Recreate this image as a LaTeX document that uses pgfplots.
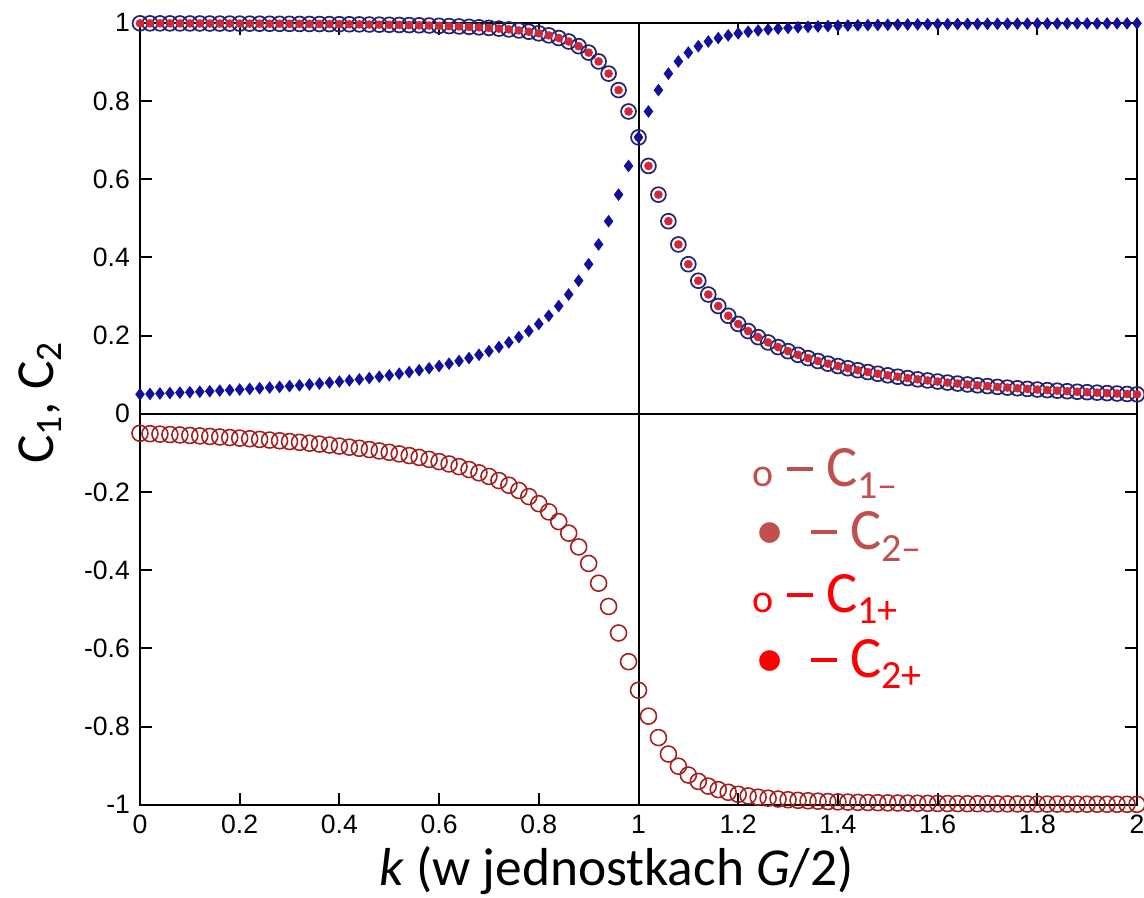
\documentclass[border=0pt]{standalone}
\usepackage{fontspec}
\setmainfont{Carlito}
\newfontfamily\ticksfont{Liberation Sans}
\usepackage{pgfplots}
\pgfplotsset{compat=1.18}
\usepackage{pgfplotstable}

\definecolor{navyc}{HTML}{23236E}
\definecolor{bluec}{HTML}{10109A}
\definecolor{dotred}{HTML}{D02838}
\definecolor{darkred}{HTML}{A51E1E}
\definecolor{accred}{HTML}{C0504D}

\newcommand{\ldash}{\rule[5.6pt]{9pt}{1.3pt}}

% k, A = upper curve (circles + dots), D = rising curve (diamonds), R = lower curve
\pgfplotstableread{
k    A      D      R
0.00 0.9988 0.0498 -0.0498
0.02 0.9987 0.0508 -0.0508
0.04 0.9987 0.0519 -0.0519
0.06 0.9986 0.0530 -0.0530
0.08 0.9985 0.0541 -0.0541
0.10 0.9985 0.0553 -0.0553
0.12 0.9984 0.0565 -0.0565
0.14 0.9983 0.0578 -0.0578
0.16 0.9982 0.0592 -0.0592
0.18 0.9982 0.0606 -0.0606
0.20 0.9981 0.0621 -0.0621
0.22 0.9980 0.0637 -0.0637
0.24 0.9979 0.0654 -0.0654
0.26 0.9977 0.0671 -0.0671
0.28 0.9976 0.0689 -0.0689
0.30 0.9975 0.0709 -0.0709
0.32 0.9973 0.0729 -0.0729
0.34 0.9972 0.0751 -0.0751
0.36 0.9970 0.0774 -0.0774
0.38 0.9968 0.0799 -0.0799
0.40 0.9966 0.0825 -0.0825
0.42 0.9964 0.0853 -0.0853
0.44 0.9961 0.0882 -0.0882
0.46 0.9958 0.0914 -0.0914
0.48 0.9955 0.0949 -0.0949
0.50 0.9951 0.0985 -0.0985
0.52 0.9947 0.1025 -0.1025
0.54 0.9943 0.1068 -0.1068
0.56 0.9938 0.1115 -0.1115
0.58 0.9932 0.1166 -0.1166
0.60 0.9925 0.1222 -0.1222
0.62 0.9917 0.1283 -0.1283
0.64 0.9908 0.1351 -0.1351
0.66 0.9898 0.1425 -0.1425
0.68 0.9886 0.1509 -0.1509
0.70 0.9871 0.1602 -0.1602
0.72 0.9853 0.1707 -0.1707
0.74 0.9832 0.1826 -0.1826
0.76 0.9806 0.1961 -0.1961
0.78 0.9773 0.2117 -0.2117
0.80 0.9732 0.2298 -0.2298
0.82 0.9680 0.2508 -0.2508
0.84 0.9612 0.2757 -0.2757
0.86 0.9523 0.3052 -0.3052
0.88 0.9403 0.3404 -0.3404
0.90 0.9239 0.3827 -0.3827
0.92 0.9013 0.4332 -0.4332
0.94 0.8702 0.4927 -0.4927
0.96 0.8281 0.5606 -0.5606
0.98 0.7733 0.6340 -0.6340
1.00 0.7071 0.7071 -0.7071
1.02 0.6340 0.7733 -0.7733
1.04 0.5606 0.8281 -0.8281
1.06 0.4927 0.8702 -0.8702
1.08 0.4332 0.9013 -0.9013
1.10 0.3827 0.9239 -0.9239
1.12 0.3404 0.9403 -0.9403
1.14 0.3052 0.9523 -0.9523
1.16 0.2757 0.9612 -0.9612
1.18 0.2508 0.9680 -0.9680
1.20 0.2298 0.9732 -0.9732
1.22 0.2117 0.9773 -0.9773
1.24 0.1961 0.9806 -0.9806
1.26 0.1826 0.9832 -0.9832
1.28 0.1707 0.9853 -0.9853
1.30 0.1602 0.9871 -0.9871
1.32 0.1509 0.9886 -0.9886
1.34 0.1425 0.9898 -0.9898
1.36 0.1351 0.9908 -0.9908
1.38 0.1283 0.9917 -0.9917
1.40 0.1222 0.9925 -0.9925
1.42 0.1166 0.9932 -0.9932
1.44 0.1115 0.9938 -0.9938
1.46 0.1068 0.9943 -0.9943
1.48 0.1025 0.9947 -0.9947
1.50 0.0985 0.9951 -0.9951
1.52 0.0949 0.9955 -0.9955
1.54 0.0914 0.9958 -0.9958
1.56 0.0882 0.9961 -0.9961
1.58 0.0853 0.9964 -0.9964
1.60 0.0825 0.9966 -0.9966
1.62 0.0799 0.9968 -0.9968
1.64 0.0774 0.9970 -0.9970
1.66 0.0751 0.9972 -0.9972
1.68 0.0729 0.9973 -0.9973
1.70 0.0709 0.9975 -0.9975
1.72 0.0689 0.9976 -0.9976
1.74 0.0671 0.9977 -0.9977
1.76 0.0654 0.9979 -0.9979
1.78 0.0637 0.9980 -0.9980
1.80 0.0621 0.9981 -0.9981
1.82 0.0606 0.9982 -0.9982
1.84 0.0592 0.9982 -0.9982
1.86 0.0578 0.9983 -0.9983
1.88 0.0565 0.9984 -0.9984
1.90 0.0553 0.9985 -0.9985
1.92 0.0541 0.9985 -0.9985
1.94 0.0530 0.9986 -0.9986
1.96 0.0519 0.9987 -0.9987
1.98 0.0508 0.9987 -0.9987
2.00 0.0498 0.9988 -0.9988
}\coef

\begin{document}
\begin{tikzpicture}
\begin{axis}[
  scale only axis, width=349pt, height=273.7pt,
  xmin=0, xmax=2, ymin=-1, ymax=1,
  clip=false,
  axis line style={line width=0.7pt},
  xtick={0,0.2,0.4,0.6,0.8,1,1.2,1.4,1.6,1.8,2},
  ytick={-1,-0.8,-0.6,-0.4,-0.2,0,0.2,0.4,0.6,0.8,1},
  tick align=inside, tick pos=both,
  major tick length=4.2pt,
  tick style={line width=0.7pt, black},
  /pgf/number format/assume math mode=true,
  tick label style={font=\ticksfont\fontsize{9.3}{11}\selectfont},
  xlabel={\textit{k} (w jednostkach \textit{G}/2)},
  ylabel={C\textsubscript{1}, C\textsubscript{2}},
  xlabel style={font=\fontsize{18.7}{22}\selectfont, at={(rel axis cs:0.478,0)}, anchor=center, yshift=-23pt},
  ylabel style={font=\fontsize{18.7}{22}\selectfont, at={(rel axis cs:0,0.5)}, anchor=center, yshift=35pt, xshift=4pt},
]
\coordinate (bl) at (rel axis cs:0,0);
\coordinate (tr) at (rel axis cs:1,1);
\draw[black, line width=0.7pt] (axis cs:1,-1) -- (axis cs:1,1);
\draw[black, line width=0.7pt] (axis cs:0,0) -- (axis cs:2,0);

\addplot[only marks, mark=o, mark size=2.6pt, mark options={draw=navyc, line width=0.6pt}] table[x=k, y=A] {\coef};
\addplot[only marks, mark=*, mark size=1.3pt, mark options={draw=dotred, fill=dotred}] table[x=k, y=A] {\coef};
\addplot[only marks, mark=diamond*, mark size=1.9pt, mark options={draw=bluec, fill=bluec}] table[x=k, y=D] {\coef};
\addplot[only marks, mark=o, mark size=2.8pt, mark options={draw=darkred, line width=0.55pt}] table[x=k, y=R] {\coef};

\node[anchor=base west, inner sep=0, text=accred] at (axis cs:1.228,-0.187)
  {\fontsize{14}{14}\selectfont o\fontsize{20.5}{20}\selectfont\ \ldash\ C\raisebox{-3.9pt}{\fontsize{14}{14}\selectfont 1–}};
\node[anchor=base west, inner sep=0, text=accred] at (axis cs:1.234,-0.348)
  {\fontsize{20.5}{20}\selectfont •\ \ \ldash\ C\raisebox{-3.9pt}{\fontsize{14}{14}\selectfont 2–}};
\node[anchor=base west, inner sep=0, text=red] at (axis cs:1.228,-0.509)
  {\fontsize{14}{14}\selectfont o\fontsize{20.5}{20}\selectfont\ \ldash\ C\raisebox{-3.9pt}{\fontsize{14}{14}\selectfont 1+}};
\node[anchor=base west, inner sep=0, text=red] at (axis cs:1.234,-0.675)
  {\fontsize{20.5}{20}\selectfont •\ \ \ldash\ C\raisebox{-3.9pt}{\fontsize{14}{14}\selectfont 2+}};
\end{axis}
\pgfresetboundingbox
\path[use as bounding box] ([xshift=-49pt, yshift=-32.55pt]bl) rectangle ([xshift=2.45pt, yshift=8pt]tr);
\end{tikzpicture}
\end{document}
